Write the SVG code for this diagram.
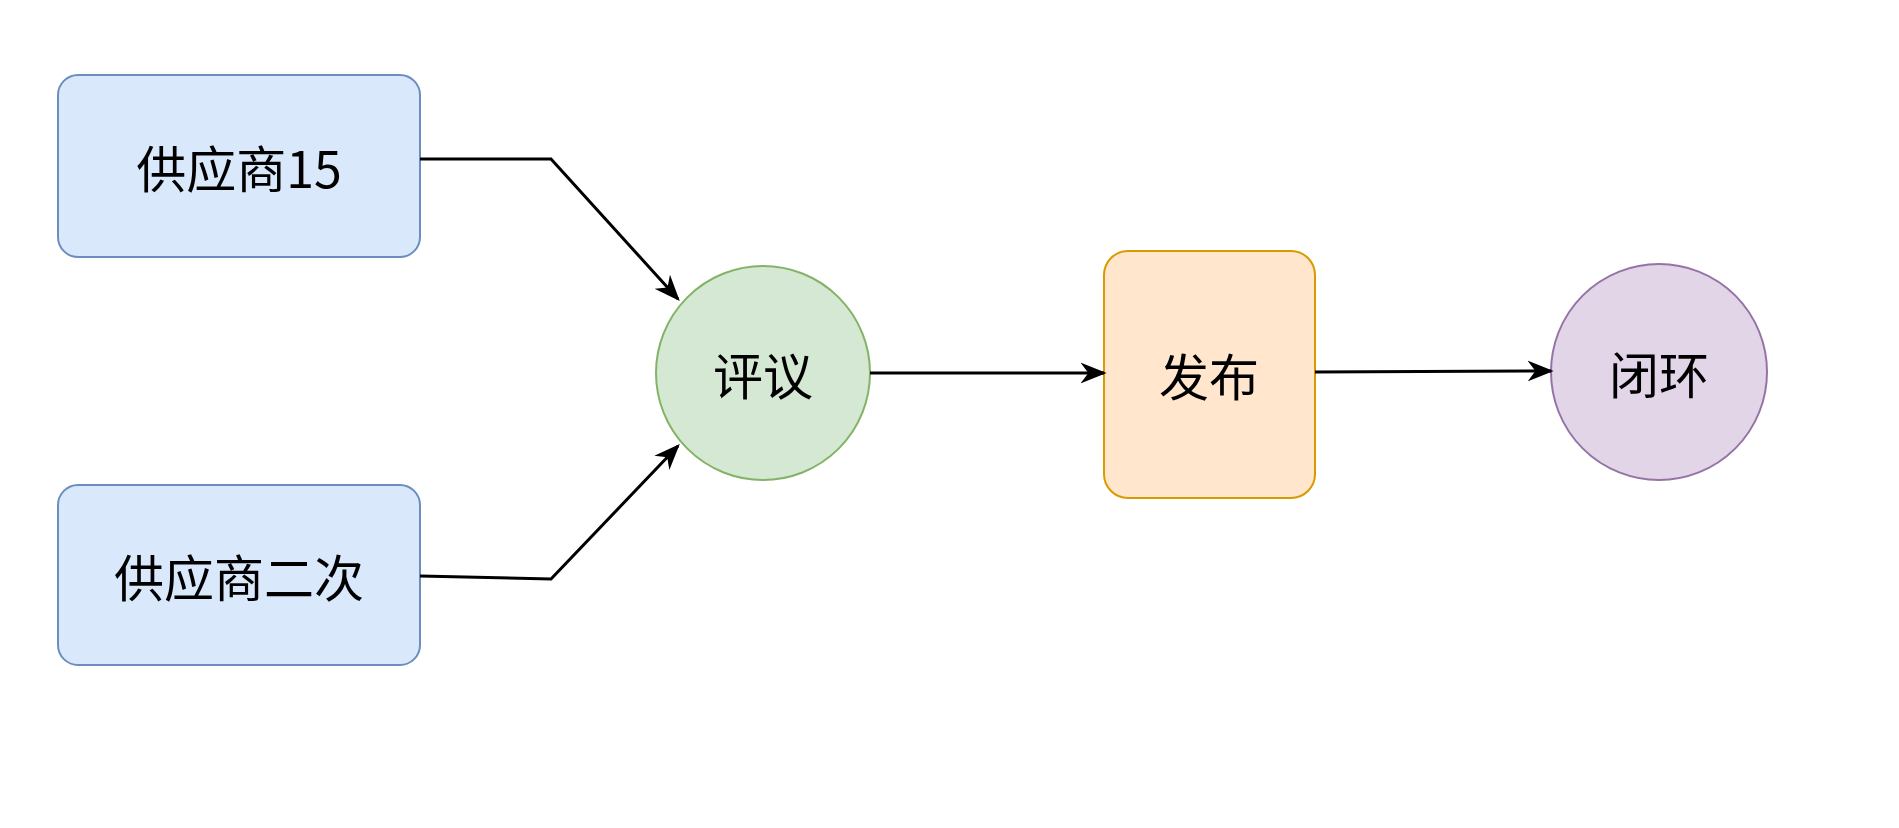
<svg xmlns="http://www.w3.org/2000/svg" width="1899" height="828" viewBox="0 0 1899 828">
<defs>
<style>
text{font-family:"Noto Sans CJK SC","Liberation Sans",sans-serif;font-size:50px;fill:#000;text-anchor:middle;dominant-baseline:central}
.e{fill:none;stroke:#000;stroke-width:3}
</style>
<marker id="a" markerWidth="10" markerHeight="10" refX="9" refY="5" orient="auto" markerUnits="userSpaceOnUse" viewBox="0 0 10 10"><path d="M0,0 L10,5 L0,10 L3,5 Z" fill="#000" transform="scale(1)"/></marker>
<marker id="b" viewBox="0 0 10 10" refX="9" refY="5" markerWidth="26" markerHeight="26" orient="auto" markerUnits="userSpaceOnUse"><path d="M0,1 L10,5 L0,9 L3,5 Z" fill="#000"/></marker>
</defs>
<rect width="1899" height="828" fill="#fff"/>
<g id="n1"><rect x="58" y="75" width="362" height="182" rx="20" fill="#dae8fc" stroke="#6c8ebf" stroke-width="2"/><text x="239" y="166">供应商15</text></g>
<g id="n2"><rect x="58" y="485" width="362" height="180" rx="20" fill="#dae8fc" stroke="#6c8ebf" stroke-width="2"/><text x="239" y="575">供应商二次</text></g>
<g id="n3"><circle cx="763" cy="373" r="107" fill="#d5e8d4" stroke="#82b366" stroke-width="2"/><text x="763" y="373">评议</text></g>
<g id="n4"><rect x="1104" y="251" width="211" height="247" rx="24" fill="#ffe6cc" stroke="#d79b00" stroke-width="2"/><text x="1209" y="374">发布</text></g>
<g id="n5"><circle cx="1659" cy="372" r="108" fill="#e1d5e7" stroke="#9673a6" stroke-width="2"/><text x="1659" y="372">闭环</text></g>
<g id="edges">
<path class="e" d="M420,159 L551,159 L678,299" marker-end="url(#b)"/>
<path class="e" d="M420,576 L551,579 L678,446" marker-end="url(#b)"/>
<path class="e" d="M870,373 L1104,373" marker-end="url(#b)"/>
<path class="e" d="M1315,372 L1551,371" marker-end="url(#b)"/>
</g>
</svg>
